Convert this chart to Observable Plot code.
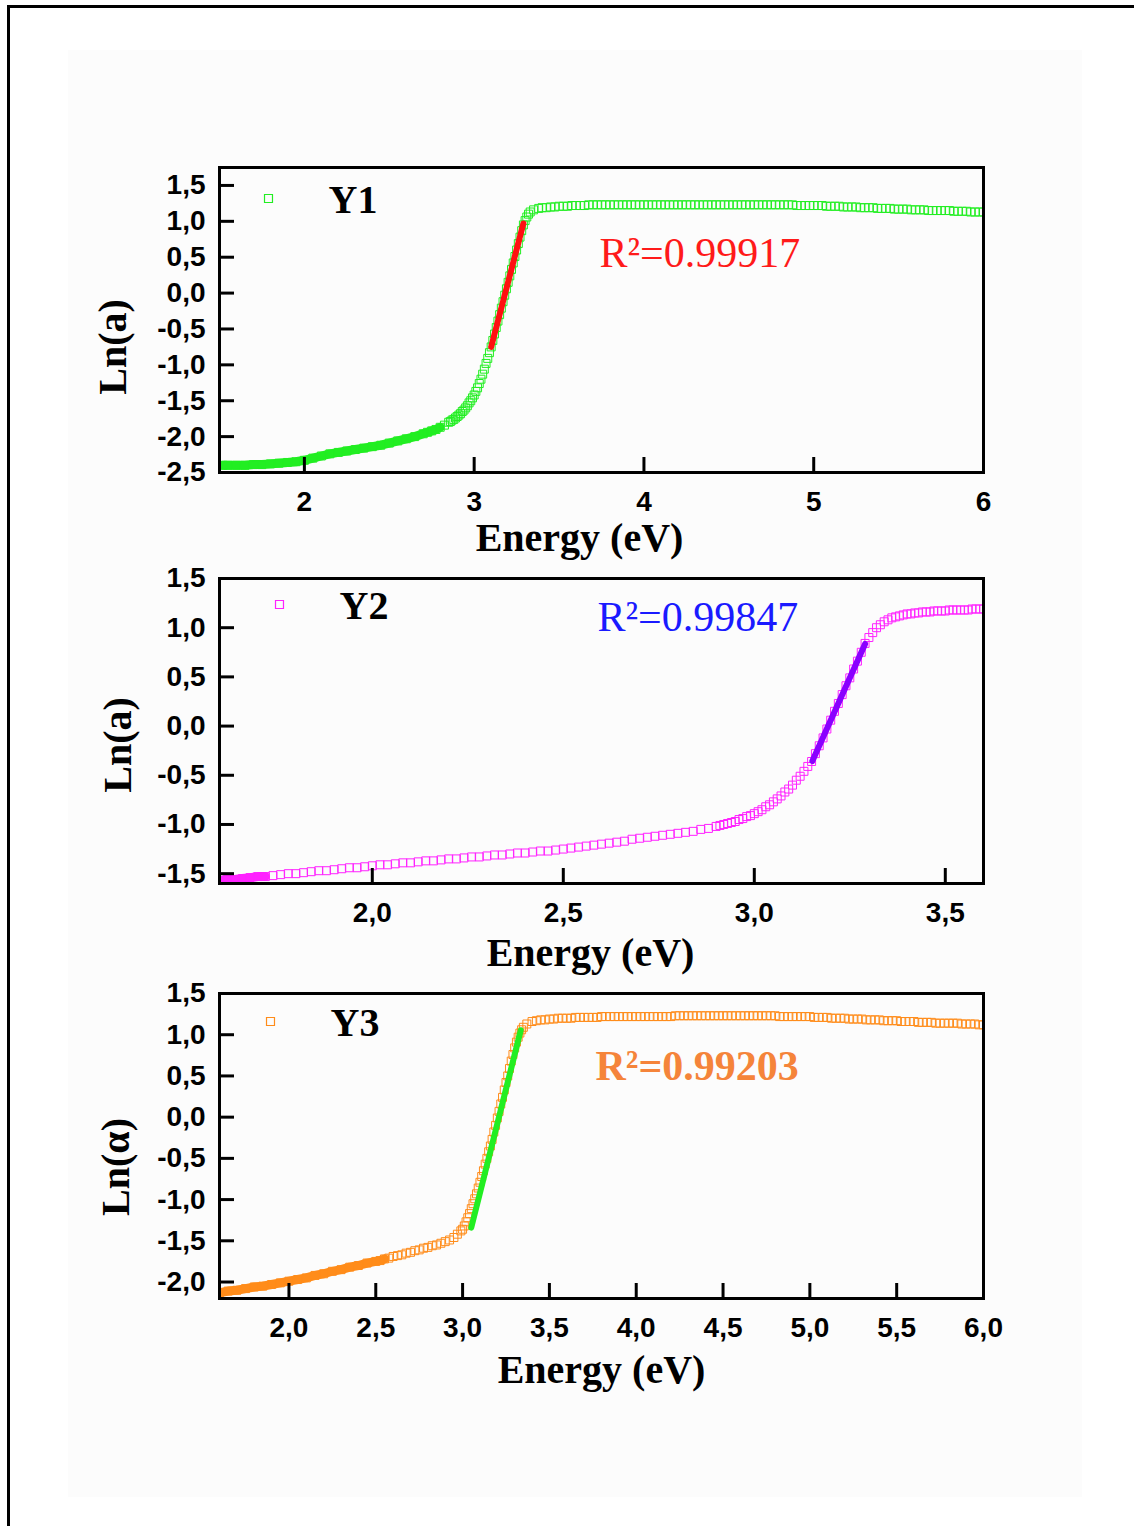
<!DOCTYPE html>
<html><head><meta charset="utf-8">
<script src="https://cdn.jsdelivr.net/npm/d3@7"></script>
<script src="https://cdn.jsdelivr.net/npm/@observablehq/plot@0.6"></script>
<style>
html,body{margin:0;padding:0;background:#fff;overflow:hidden;}
#page{position:relative;width:1134px;height:1526px;overflow:hidden;background:#fff;}
#border{position:absolute;left:7px;top:5px;width:1400px;height:1800px;border-top:3px solid #000;border-left:3px solid #000;}
#bg{position:absolute;left:68px;top:50px;width:1014px;height:1447px;background:#fcfcfc;}
</style></head><body><div id="page"><div id="border"></div><div id="bg"></div></div>
<script>
// ---------- Panel 1 (Y1): [Energy eV, Ln(a)] ----------
const Y1 = [
 [1.52,-2.40],[1.55,-2.40],[1.60,-2.40],[1.65,-2.40],[1.70,-2.39],[1.75,-2.39],[1.80,-2.38],[1.85,-2.37],[1.90,-2.36],[1.95,-2.35],
 [2.00,-2.33],[2.05,-2.30],[2.10,-2.27],[2.15,-2.24],[2.20,-2.22],[2.25,-2.20],[2.30,-2.18],[2.35,-2.16],[2.40,-2.14],[2.45,-2.12],
 [2.50,-2.09],[2.55,-2.06],[2.60,-2.03],[2.65,-2.00],[2.70,-1.96],[2.725,-1.94],[2.75,-1.92],[2.775,-1.90],[2.80,-1.87],[2.825,-1.84],
 [2.85,-1.80],[2.86,-1.79],[2.87,-1.77],[2.88,-1.76],[2.89,-1.74],[2.90,-1.72],[2.91,-1.70],[2.92,-1.68],[2.93,-1.65],[2.94,-1.63],
 [2.95,-1.60],[2.96,-1.57],[2.97,-1.53],[2.98,-1.50],[2.99,-1.46],
 [3.00,-1.42],[3.01,-1.37],[3.02,-1.32],[3.03,-1.26],[3.04,-1.20],[3.05,-1.13],[3.06,-1.06],[3.07,-0.98],[3.08,-0.91],[3.09,-0.83],
 [3.10,-0.75],[3.11,-0.66],[3.12,-0.57],[3.13,-0.48],[3.14,-0.39],[3.15,-0.30],[3.16,-0.21],[3.17,-0.12],[3.18,-0.03],[3.19,0.06],
 [3.20,0.15],[3.21,0.24],[3.22,0.33],[3.23,0.42],[3.24,0.51],[3.25,0.60],[3.26,0.69],[3.27,0.78],[3.28,0.87],[3.29,0.95],
 [3.30,1.01],[3.31,1.06],[3.32,1.10],[3.33,1.13],[3.35,1.16],[3.38,1.18],
 [3.400,1.19],[3.425,1.19],[3.450,1.20],[3.475,1.20],[3.500,1.21],[3.525,1.21],[3.550,1.21],[3.575,1.22],[3.600,1.22],[3.625,1.22],[3.650,1.22],[3.675,1.23],
 [3.700,1.23],[3.725,1.23],[3.750,1.23],[3.775,1.23],[3.800,1.23],[3.825,1.23],[3.850,1.23],[3.875,1.23],[3.900,1.23],[3.925,1.23],[3.950,1.23],[3.975,1.23],
 [4.000,1.23],[4.025,1.23],[4.050,1.23],[4.075,1.23],[4.100,1.23],[4.125,1.23],[4.150,1.23],[4.175,1.23],[4.200,1.23],[4.225,1.23],[4.250,1.23],[4.275,1.23],
 [4.300,1.23],[4.325,1.23],[4.350,1.23],[4.375,1.23],[4.400,1.23],[4.425,1.23],[4.450,1.23],[4.475,1.23],[4.500,1.23],[4.525,1.23],[4.550,1.23],[4.575,1.23],
 [4.600,1.23],[4.625,1.23],[4.650,1.23],[4.675,1.23],[4.700,1.23],[4.725,1.23],[4.750,1.23],[4.775,1.23],[4.800,1.23],[4.825,1.23],[4.850,1.23],[4.875,1.23],
 [4.900,1.22],[4.925,1.22],[4.950,1.22],[4.975,1.22],[5.000,1.22],[5.025,1.22],[5.050,1.22],[5.075,1.21],[5.100,1.21],[5.125,1.21],[5.150,1.21],[5.175,1.20],
 [5.200,1.20],[5.225,1.20],[5.250,1.20],[5.275,1.19],[5.300,1.19],[5.325,1.19],[5.350,1.19],[5.375,1.18],[5.400,1.18],[5.425,1.18],[5.450,1.18],[5.475,1.17],
 [5.500,1.17],[5.525,1.17],[5.550,1.17],[5.575,1.16],[5.600,1.16],[5.625,1.16],[5.650,1.16],[5.675,1.15],[5.700,1.15],[5.725,1.15],[5.750,1.15],[5.775,1.15],
 [5.800,1.15],[5.825,1.14],[5.850,1.14],[5.875,1.14],[5.900,1.14],[5.925,1.13],[5.950,1.13],[5.975,1.13],[6.000,1.13]
];
const fit1 = [[3.10,-0.75],[3.29,0.97]];

// ---------- Panel 2 (Y2) ----------
const Y2 = [
 [1.60,-1.57],[1.62,-1.56],[1.64,-1.56],[1.66,-1.55],[1.68,-1.54],[1.70,-1.53],[1.72,-1.53],[1.74,-1.52],[1.76,-1.51],[1.78,-1.50],
 [1.80,-1.50],[1.82,-1.49],[1.84,-1.48],[1.86,-1.47],[1.88,-1.47],[1.90,-1.46],[1.92,-1.45],[1.94,-1.44],[1.96,-1.44],[1.98,-1.43],
 [2.00,-1.42],[2.02,-1.41],[2.04,-1.41],[2.06,-1.40],[2.08,-1.39],[2.10,-1.39],[2.12,-1.38],[2.14,-1.37],[2.16,-1.37],[2.18,-1.36],
 [2.20,-1.35],[2.22,-1.35],[2.24,-1.34],[2.26,-1.33],[2.28,-1.33],[2.30,-1.32],[2.32,-1.31],[2.34,-1.31],[2.36,-1.30],[2.38,-1.29],
 [2.40,-1.29],[2.42,-1.28],[2.44,-1.27],[2.46,-1.27],[2.48,-1.26],[2.50,-1.25],[2.52,-1.24],[2.54,-1.23],[2.56,-1.22],[2.58,-1.21],
 [2.60,-1.20],[2.62,-1.19],[2.64,-1.18],[2.66,-1.17],[2.68,-1.15],[2.70,-1.14],[2.72,-1.13],[2.74,-1.12],[2.76,-1.11],[2.78,-1.10],
 [2.80,-1.09],[2.82,-1.08],[2.84,-1.07],[2.86,-1.05],[2.88,-1.04],[2.90,-1.02],[2.91,-1.01],[2.92,-1.00],[2.93,-0.99],[2.94,-0.98],
 [2.95,-0.97],[2.96,-0.95],[2.97,-0.94],[2.98,-0.92],[2.99,-0.91],[3.00,-0.89],[3.01,-0.87],[3.02,-0.85],[3.03,-0.82],[3.04,-0.80],
 [3.05,-0.77],[3.06,-0.74],[3.07,-0.71],[3.08,-0.67],[3.09,-0.64],[3.10,-0.60],[3.11,-0.55],[3.12,-0.51],[3.13,-0.46],[3.14,-0.41],
 [3.15,-0.36],[3.16,-0.28],[3.17,-0.20],[3.18,-0.12],[3.19,-0.03],[3.20,0.06],[3.21,0.15],[3.22,0.23],[3.23,0.32],[3.24,0.41],
 [3.25,0.49],[3.26,0.58],[3.27,0.66],[3.28,0.75],[3.29,0.84],[3.30,0.90],[3.31,0.95],[3.32,1.00],[3.33,1.03],[3.34,1.06],
 [3.35,1.08],[3.36,1.10],[3.37,1.11],[3.38,1.12],[3.39,1.13],[3.40,1.14],[3.41,1.14],[3.42,1.15],[3.43,1.15],[3.44,1.16],
 [3.45,1.16],[3.46,1.16],[3.47,1.17],[3.48,1.17],[3.49,1.17],[3.50,1.17],[3.51,1.18],[3.52,1.18],[3.53,1.18],[3.54,1.18],
 [3.55,1.18],[3.56,1.18],[3.57,1.19],[3.58,1.19],[3.59,1.19],[3.60,1.19]
];
const fit2 = [[3.152,-0.355],[3.29,0.835]];

// ---------- Panel 3 (Y3) ----------
const Y3 = [
 [1.60,-2.13],[1.65,-2.11],[1.70,-2.10],[1.75,-2.08],[1.80,-2.06],[1.85,-2.05],[1.90,-2.03],[1.95,-2.01],[2.00,-1.99],[2.05,-1.97],
 [2.10,-1.95],[2.15,-1.92],[2.20,-1.90],[2.25,-1.87],[2.30,-1.85],[2.35,-1.82],[2.40,-1.80],[2.45,-1.77],[2.50,-1.75],[2.525,-1.74],
 [2.55,-1.72],[2.575,-1.71],[2.60,-1.69],[2.625,-1.68],[2.65,-1.67],[2.675,-1.65],[2.70,-1.64],[2.725,-1.62],[2.75,-1.61],[2.775,-1.59],
 [2.80,-1.58],[2.825,-1.56],[2.85,-1.55],[2.875,-1.53],[2.90,-1.51],[2.925,-1.49],[2.95,-1.46],[2.97,-1.42],[2.99,-1.38],
 [3.00,-1.36],[3.01,-1.32],[3.02,-1.27],[3.03,-1.22],[3.04,-1.17],[3.05,-1.11],[3.06,-1.05],[3.07,-0.99],[3.08,-0.93],[3.09,-0.86],
 [3.10,-0.79],[3.11,-0.72],[3.12,-0.65],[3.13,-0.57],[3.14,-0.50],[3.15,-0.42],[3.16,-0.35],[3.17,-0.27],[3.18,-0.18],[3.19,-0.10],
 [3.20,-0.01],[3.21,0.07],[3.22,0.16],[3.23,0.24],[3.24,0.33],[3.25,0.42],[3.26,0.50],[3.27,0.59],[3.28,0.68],[3.29,0.76],
 [3.30,0.84],[3.31,0.91],[3.32,0.97],[3.33,1.02],[3.34,1.06],[3.35,1.09],[3.37,1.13],
 [3.400,1.16],[3.425,1.17],[3.450,1.18],[3.475,1.18],[3.500,1.19],[3.525,1.19],[3.550,1.20],[3.575,1.20],[3.600,1.20],[3.625,1.20],[3.650,1.21],[3.675,1.21],
 [3.700,1.21],[3.725,1.21],[3.750,1.21],[3.775,1.21],[3.800,1.22],[3.825,1.22],[3.850,1.22],[3.875,1.22],[3.900,1.22],[3.925,1.22],[3.950,1.22],[3.975,1.22],
 [4.000,1.22],[4.025,1.22],[4.050,1.22],[4.075,1.22],[4.100,1.22],[4.125,1.22],[4.150,1.22],[4.175,1.22],[4.200,1.22],[4.225,1.23],[4.250,1.23],[4.275,1.23],
 [4.300,1.23],[4.325,1.23],[4.350,1.23],[4.375,1.23],[4.400,1.23],[4.425,1.23],[4.450,1.23],[4.475,1.23],[4.500,1.23],[4.525,1.23],[4.550,1.23],[4.575,1.23],
 [4.600,1.23],[4.625,1.23],[4.650,1.23],[4.675,1.23],[4.700,1.23],[4.725,1.23],[4.750,1.23],[4.775,1.23],[4.800,1.23],[4.825,1.22],[4.850,1.22],[4.875,1.22],
 [4.900,1.22],[4.925,1.22],[4.950,1.22],[4.975,1.22],[5.000,1.22],[5.025,1.21],[5.050,1.21],[5.075,1.21],[5.100,1.21],[5.125,1.20],[5.150,1.20],[5.175,1.20],
 [5.200,1.20],[5.225,1.19],[5.250,1.19],[5.275,1.19],[5.300,1.19],[5.325,1.18],[5.350,1.18],[5.375,1.18],[5.400,1.18],[5.425,1.17],[5.450,1.17],[5.475,1.17],
 [5.500,1.17],[5.525,1.16],[5.550,1.16],[5.575,1.16],[5.600,1.16],[5.625,1.15],[5.650,1.15],[5.675,1.15],[5.700,1.15],[5.725,1.14],[5.750,1.14],[5.775,1.14],
 [5.800,1.14],[5.825,1.14],[5.850,1.14],[5.875,1.13],[5.900,1.13],[5.925,1.13],[5.950,1.13],[5.975,1.12],[6.000,1.12]
];
const fit3 = [[3.05,-1.34],[3.335,1.055]];

// ---------- Axis ticks & labels ----------
const xTicks1 = [2, 3, 4, 5, 6];
const xTicks2 = [2.0, 2.5, 3.0, 3.5];
const xTicks3 = [2.0, 2.5, 3.0, 3.5, 4.0, 4.5, 5.0, 5.5, 6.0];
const yTicks1 = [-2.5, -2.0, -1.5, -1.0, -0.5, 0.0, 0.5, 1.0, 1.5];
const yTicks2 = [-1.5, -1.0, -0.5, 0.0, 0.5, 1.0, 1.5];
const yTicks3 = [-2.0, -1.5, -1.0, -0.5, 0.0, 0.5, 1.0, 1.5];
const seriesNames = ["Y1", "Y2", "Y3"];
const r2Labels = ["R\u00b2=0.99917", "R\u00b2=0.99847", "R\u00b2=0.99203"];
const xLabel = "Energy (eV)";
const yLabels = ["Ln(a)", "Ln(a)", "Ln(\u03b1)"];

const SANS = "Liberation Sans, Arial, Helvetica, sans-serif";
const SERIF = "Liberation Serif, Times New Roman, Times, serif";
const comma1 = d => d.toFixed(1).replace(".", ",");

function panel(cfg) {
  const data = cfg.data.map(([e, v]) => ({e, v}));
  const fit = cfg.fit.map(([e, v]) => ({e, v}));
  const W = 1134, H = 430, mL = 219, mR = 151, mT = 40, mB = 85;
  const fw = W - mL - mR, fh = H - mT - mB;
  const [x0, x1] = cfg.xDomain, [y0, y1] = cfg.yDomain;
  const tl = 15;
  const dxT = tl * (x1 - x0) / fw, dyT = tl * (y1 - y0) / fh;
  const chart = Plot.plot({
    width: W, height: H,
    marginLeft: mL, marginRight: mR, marginTop: mT, marginBottom: mB,
    style: {background: "transparent", overflow: "visible", color: "black"},
    x: {domain: cfg.xDomain},
    y: {domain: cfg.yDomain},
    marks: [
      Plot.line(data.filter(d => d.e <= cfg.bandMax), {x: "e", y: "v", stroke: cfg.color, strokeWidth: 9, clip: true}),
      Plot.dot(data, {x: "e", y: "v", symbol: "square", r: 4.5, stroke: cfg.color, strokeWidth: 1, fill: "none", clip: true}),
      Plot.line(fit, {x: "e", y: "v", stroke: cfg.fitColor, strokeWidth: 6, strokeLinecap: "round"}),
      Plot.ruleY(cfg.yTicks, {y: d => d, x1: () => x0, x2: () => x0 + dxT, stroke: "black", strokeWidth: 3}),
      Plot.ruleX(cfg.xTicks, {x: d => d, y1: () => y0, y2: () => y0 + dyT, stroke: "black", strokeWidth: 3}),
      Plot.frame({stroke: "black", strokeWidth: 3}),
      Plot.axisX({ticks: cfg.xTicks, tickFormat: cfg.xFmt, tickSize: 0, tickPadding: 19, label: null,
        fontSize: 28, fontWeight: "bold", fontFamily: SANS, fill: "black"}),
      Plot.axisY({ticks: cfg.yTicks, tickFormat: comma1, tickSize: 0, tickPadding: 14, label: null,
        fontSize: 28, fontWeight: "bold", fontFamily: SANS, fill: "black"}),
      Plot.text([xLabel], {text: d => d, frameAnchor: "bottom", dx: cfg.xlDx, dy: cfg.xlDy, textAnchor: "middle", lineAnchor: "middle",
        fontSize: 40, fontWeight: "bold", fontFamily: SERIF, fill: "black"}),
      Plot.text([cfg.ylabel], {text: d => d, frameAnchor: "left", rotate: -90, dx: cfg.ylDx, dy: cfg.ylDy,
        textAnchor: "middle", lineAnchor: "middle",
        fontSize: 40, fontWeight: "bold", fontFamily: SERIF, fill: "black"}),
      Plot.dot([cfg.name], {frameAnchor: "top-left", dx: cfg.legDx, dy: cfg.legDy, symbol: "square", r: 4.5,
        stroke: cfg.color, strokeWidth: 1.2, fill: "none"}),
      Plot.text([cfg.name], {text: d => d, frameAnchor: "top-left", dx: cfg.legDx + 60, dy: cfg.legDy + 2, textAnchor: "start",
        lineAnchor: "middle", fontSize: 40, fontWeight: "bold", fontFamily: SERIF, fill: "black"}),
      Plot.text([cfg.r2], {text: d => d, frameAnchor: "top-left", dx: cfg.r2Dx, dy: cfg.r2Dy, textAnchor: "start",
        lineAnchor: "middle", fontSize: 42, fontWeight: cfg.r2Bold ? "bold" : "normal", fontFamily: SERIF, fill: cfg.r2Color})
    ]
  });
  chart.style.position = "absolute";
  chart.style.top = cfg.top + "px";
  chart.style.left = "0px";
  document.getElementById("page").appendChild(chart);
}

panel({data: Y1, fit: fit1, color: "#22ee22", fitColor: "#ff1010",
  xDomain: [1.5, 6], yDomain: [-2.5, 1.75], xTicks: xTicks1, yTicks: yTicks1, xFmt: d => String(d),
  name: seriesNames[0], r2: r2Labels[0], r2Color: "#ff1a1a", r2Bold: false, ylabel: yLabels[0], bandMax: 2.8,
  top: 127, xlDx: -22, xlDy: 66, ylDx: -106, ylDy: 27, legDx: 49, legDy: 31, r2Dx: 380, r2Dy: 86});

panel({data: Y2, fit: fit2, color: "#ff22ff", fitColor: "#8a00ff",
  xDomain: [1.6, 3.6], yDomain: [-1.6, 1.5], xTicks: xTicks2, yTicks: yTicks2, xFmt: comma1,
  name: seriesNames[1], r2: r2Labels[1], r2Color: "#1a1aff", r2Bold: false, ylabel: yLabels[1], bandMax: 1.72,
  top: 538, xlDx: -11, xlDy: 70, ylDx: -101, ylDy: 14, legDx: 60, legDy: 26, r2Dx: 378, r2Dy: 39});

panel({data: Y3, fit: fit3, color: "#ff8c1a", fitColor: "#22ee22",
  xDomain: [1.6, 6.0], yDomain: [-2.2, 1.5], xTicks: xTicks3, yTicks: yTicks3, xFmt: comma1,
  name: seriesNames[2], r2: r2Labels[2], r2Color: "#f5843a", r2Bold: true, ylabel: yLabels[2], bandMax: 2.55,
  top: 953, xlDx: 0, xlDy: 72, ylDx: -103, ylDy: 21, legDx: 51, legDy: 28, r2Dx: 376, r2Dy: 73});
</script>
</body></html>
